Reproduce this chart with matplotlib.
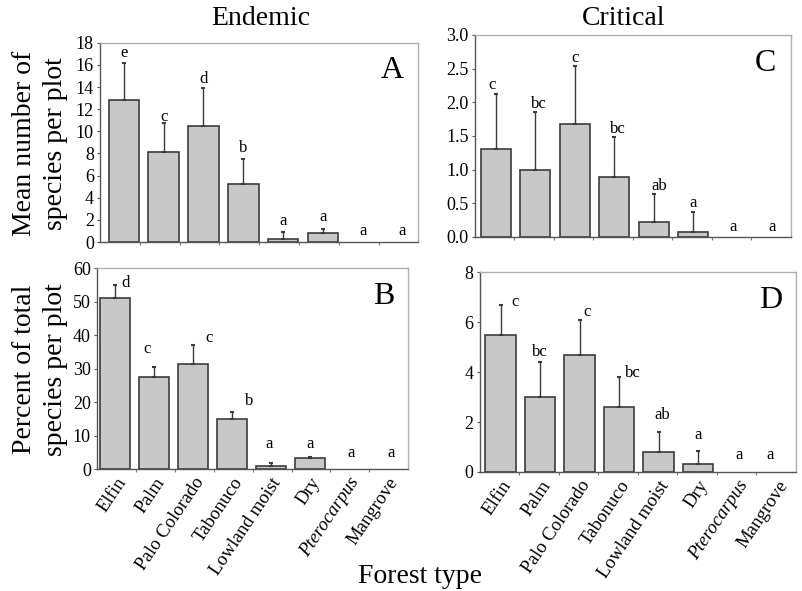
import matplotlib
matplotlib.use("Agg")
import matplotlib.pyplot as plt
import numpy as np

plt.rcParams["font.family"] = ["Liberation Serif", "DejaVu Serif"]

FOREST_TYPES = ["Elfin", "Palm", "Palo Colorado", "Tabonuco",
                "Lowland moist", "Dry", "Pterocarpus", "Mangrove"]

# A: endemic, mean number of species per plot
endemic_mean = [12.8, 8.1, 10.5, 5.2, 0.3, 0.8, 0.0, 0.0]
endemic_mean_err = [3.4, 2.7, 3.4, 2.3, 0.6, 0.4, 0.0, 0.0]
endemic_mean_letters = ["e", "c", "d", "b", "a", "a", "a", "a"]

# B: endemic, percent of total species per plot
endemic_pct = [51.0, 27.5, 31.5, 15.0, 1.0, 3.4, 0.0, 0.0]
endemic_pct_err = [4.0, 3.0, 5.5, 2.0, 0.7, 0.3, 0.0, 0.0]
endemic_pct_letters = ["d", "c", "c", "b", "a", "a", "a", "a"]

# C: critical, mean number of species per plot
critical_mean = [1.30, 1.00, 1.67, 0.89, 0.22, 0.08, 0.0, 0.0]
critical_mean_err = [0.82, 0.86, 0.87, 0.60, 0.42, 0.29, 0.0, 0.0]
critical_mean_letters = ["c", "bc", "c", "bc", "ab", "a", "a", "a"]

# D: critical, percent of total species per plot
critical_pct = [5.5, 3.0, 4.7, 2.6, 0.8, 0.3, 0.0, 0.0]
critical_pct_err = [1.2, 1.4, 1.4, 1.2, 0.8, 0.55, 0.0, 0.0]
critical_pct_letters = ["c", "bc", "c", "bc", "ab", "a", "a", "a"]

BAR_COLOR = "#c8c8c8"
EDGE_COLOR = "#3c3c3c"


def panel(fig, rect, vals, errs, letters, ymax, yticks, fmt, tag,
          x_left, letter_dx, letter_dy, show_labels):
    ax = fig.add_axes(rect)
    x = np.arange(len(vals))
    vals = np.asarray(vals)
    errs = np.asarray(errs)
    nz = vals > 0  # zero bars are not drawn in the original
    ax.bar(x[nz], vals[nz], width=0.77, color=BAR_COLOR, edgecolor=EDGE_COLOR,
           linewidth=1.2)
    ax.errorbar(x[nz], vals[nz], yerr=[np.zeros(nz.sum()), errs[nz]], fmt="none",
                ecolor=EDGE_COLOR, elinewidth=1.0, capsize=1.5, capthick=1.5)
    for i, lab in enumerate(letters):
        ax.text(i + letter_dx[i], vals[i] + errs[i] + letter_dy[i] * ymax, lab,
                ha="center", va="center", fontsize=12)
    ax.text(0.955, 0.86, tag, transform=ax.transAxes, ha="right", va="center",
            fontsize=23)
    ax.set_xlim(x_left, x_left + len(vals))
    ax.set_ylim(0, ymax)
    ax.set_yticks(yticks)
    ax.set_yticklabels([fmt.format(v) for v in yticks], fontsize=13)
    ax.tick_params(axis="y", length=2.5, width=0.8, color="#555555", pad=2)
    ax.set_xticks(x)
    ax.set_xticks(np.arange(len(vals) - 1) + x_left + 1, minor=True)
    ax.tick_params(axis="x", which="major", length=0, pad=4)
    ax.tick_params(axis="x", which="minor", length=2.5, width=0.8, color="#777777")
    if show_labels:
        labels = ax.set_xticklabels(FOREST_TYPES, rotation=56, ha="right",
                                    rotation_mode="anchor", fontsize=13.5)
        labels[6].set_style("italic")
    else:
        ax.set_xticklabels([])
    ax.spines["left"].set_color("#555555")
    ax.spines["bottom"].set_color("#555555")
    ax.spines["top"].set_color("#b0b0b0")
    ax.spines["right"].set_color("#b0b0b0")
    for s in ax.spines.values():
        s.set_linewidth(1.0)
    return ax


fig = plt.figure(figsize=(8.02, 5.91), dpi=100)

panel(fig, [0.1247, 0.5905, 0.397, 0.337], endemic_mean, endemic_mean_err,
      endemic_mean_letters, 18, np.arange(0, 19, 2), "{:.0f}", "A", -0.6,
      [0, 0, 0, 0, 0, 0, 0, 0],
      [0.05, 0.03, 0.045, 0.055, 0.055, 0.06, 0.053, 0.053], False)

panel(fig, [0.121, 0.2064, 0.388, 0.340], endemic_pct, endemic_pct_err,
      endemic_pct_letters, 60, np.arange(0, 61, 10), "{:.0f}", "B", -0.47,
      [0.26, -0.19, 0.4, 0.45, -0.04, 0, 0.07, 0.1],
      [0.007, 0.09, 0.035, 0.055, 0.095, 0.062, 0.078, 0.078], True)

panel(fig, [0.592, 0.599, 0.394, 0.342], critical_mean, critical_mean_err,
      critical_mean_letters, 3.0, np.arange(0, 3.01, 0.5), "{:.1f}", "C", -0.53,
      [-0.08, 0.1, 0, 0.1, 0.13, 0, 0, 0],
      [0.047, 0.04, 0.037, 0.04, 0.037, 0.043, 0.047, 0.047], False)

panel(fig, [0.5985, 0.2014, 0.394, 0.338], critical_pct, critical_pct_err,
      critical_pct_letters, 8, np.arange(0, 9, 2), "{:.0f}", "D", -0.52,
      [0.37, 0, 0.18, 0.35, 0.1, 0, 0.05, -0.18],
      [0.012, 0.05, 0.037, 0.02, 0.087, 0.08, 0.087, 0.087], True)

fig.text(0.325, 0.9695, "Endemic", ha="center", va="center", fontsize=20)
fig.text(0.778, 0.9695, "Critical", ha="center", va="center", fontsize=20)
fig.text(0.050, 0.757, "Mean number of\nspecies per plot", ha="center",
         va="center", rotation=90, fontsize=20, linespacing=1.3)
fig.text(0.050, 0.375, "Percent of total\nspecies per plot", ha="center",
         va="center", rotation=90, fontsize=20, linespacing=1.3)
fig.text(0.524, 0.024, "Forest type", ha="center", va="center", fontsize=20)

fig.savefig("out.png", dpi=100)
